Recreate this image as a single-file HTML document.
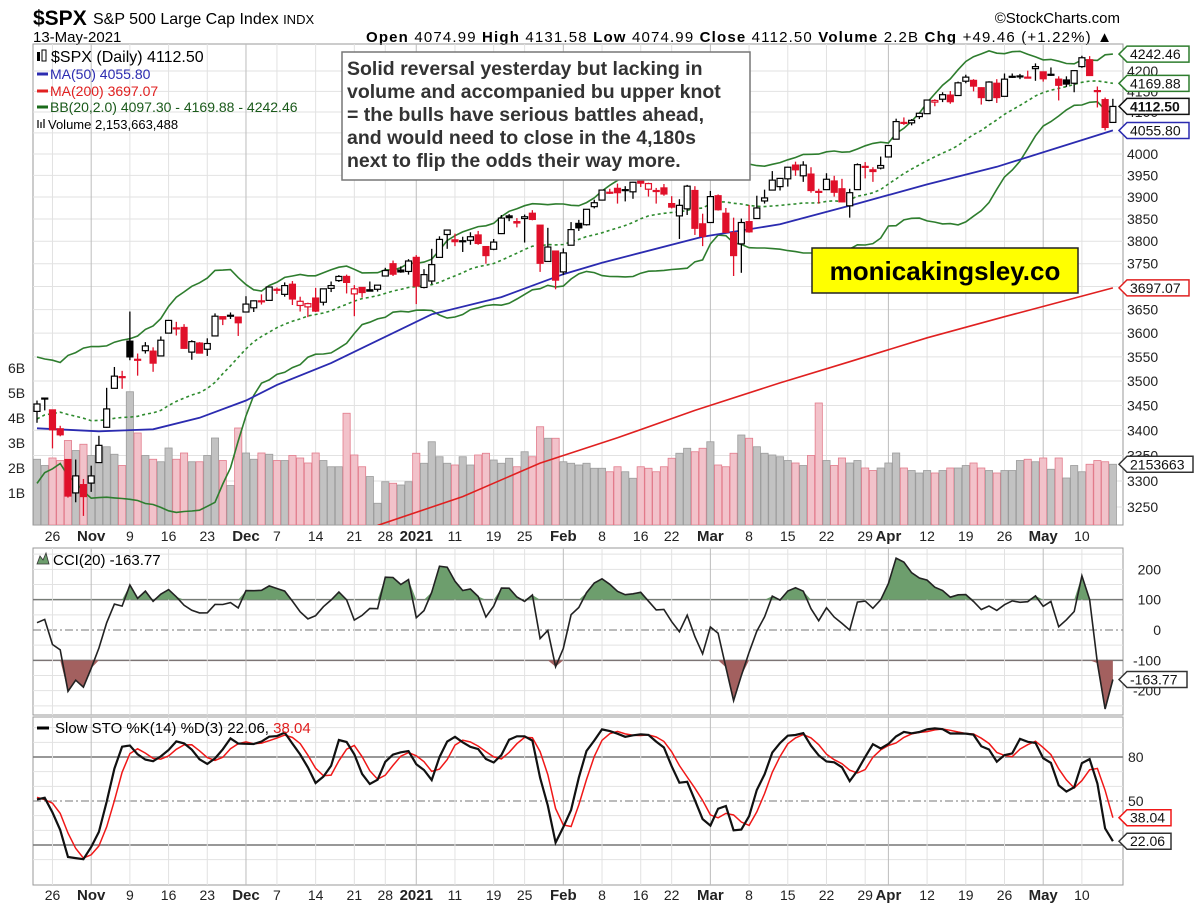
<!DOCTYPE html>
<html><head><meta charset="utf-8"><title>$SPX Daily Chart</title>
<style>
html,body{margin:0;padding:0;background:#fff;}
svg{display:block;font-family:"Liberation Sans",Arial,sans-serif;}
</style></head>
<body>
<svg id="chart" width="1200" height="908" viewBox="0 0 1200 908" xmlns="http://www.w3.org/2000/svg">
<defs>
<clipPath id="mainClip"><rect x="33" y="44" width="1090" height="481"/></clipPath>
<clipPath id="cciClip"><rect x="33" y="548" width="1090" height="167"/></clipPath>
<clipPath id="stoClip"><rect x="33" y="717" width="1090" height="168"/></clipPath>
</defs>
<rect x="0" y="0" width="1200" height="908" fill="#fff"/>
<!-- header -->
<text x="33" y="25" font-size="21" font-weight="bold">$SPX</text>
<text x="93" y="24" font-size="16">S&amp;P 500 Large Cap Index <tspan font-size="13">INDX</tspan></text>
<text x="33" y="42" font-size="15">13-May-2021</text>
<text x="366" y="42" font-size="15" textLength="746" lengthAdjust="spacing"><tspan font-weight="bold">Open</tspan> 4074.99  <tspan font-weight="bold">High</tspan> 4131.58  <tspan font-weight="bold">Low</tspan> 4074.99  <tspan font-weight="bold">Close</tspan> 4112.50  <tspan font-weight="bold">Volume</tspan> 2.2B  <tspan font-weight="bold">Chg</tspan> +49.46 (+1.22%) ▲</text>
<text x="1120" y="23" font-size="15" text-anchor="end">©StockCharts.com</text>

<rect x="33" y="44" width="1090" height="481" fill="none" stroke="#999"/>
<rect x="33" y="548" width="1090" height="167" fill="none" stroke="#999"/>
<rect x="33" y="717" width="1090" height="168" fill="none" stroke="#999"/>

<g id="gGrid"></g>
<g id="gMain" clip-path="url(#mainClip)"></g>
<g id="gCci" clip-path="url(#cciClip)"></g>
<g id="gSto" clip-path="url(#stoClip)"></g>
<g id="gAxis"></g>

<!-- main legend -->
<g font-size="14">
<rect x="37" y="52" width="3" height="9" fill="#000"/>
<rect x="42" y="50" width="4" height="11" fill="#fff" stroke="#000"/>
<text x="51" y="62" font-size="16">$SPX (Daily) 4112.50</text>
<line x1="37" y1="74" x2="48" y2="74" stroke="#2b2bb0" stroke-width="3"/>
<text x="50" y="79" fill="#2b2bb0">MA(50) 4055.80</text>
<line x1="37" y1="91" x2="48" y2="91" stroke="#e02020" stroke-width="3"/>
<text x="50" y="96" fill="#e02020">MA(200) 3697.07</text>
<line x1="37" y1="107" x2="48" y2="107" stroke="#1a6b1a" stroke-width="3"/>
<text x="50" y="112" fill="#1a5a1a">BB(20,2.0) 4097.30 - 4169.88 - 4242.46</text>
<rect x="37" y="120" width="2" height="8" fill="#666"/>
<rect x="40" y="122" width="2" height="6" fill="#666"/>
<rect x="43" y="119" width="2" height="9" fill="#666"/>
<text x="48" y="129" font-size="13">Volume 2,153,663,488</text>
</g>

<!-- annotation -->
<rect x="342" y="52" width="408" height="128" fill="#fff" stroke="#777" stroke-width="1.5"/>
<text font-size="19.5" font-weight="bold" fill="#333">
<tspan x="347" y="75">Solid reversal yesterday but lacking in</tspan>
<tspan x="347" y="98">volume and accompanied bu upper knot</tspan>
<tspan x="347" y="121">= the bulls have serious battles ahead,</tspan>
<tspan x="347" y="144">and would need to close in the 4,180s</tspan>
<tspan x="347" y="167">next to flip the odds their way more.</tspan>
</text>
<rect x="812" y="248" width="266" height="45" fill="#ffff00" stroke="#222" stroke-width="1.5"/>
<text x="945" y="280" font-size="26" font-weight="bold" text-anchor="middle">monicakingsley.co</text>

<!-- indicator legends -->
<path d="M37,564 L40,556 L43,560 L46,553 L49,564 Z" fill="#6d9e6d" stroke="#333" stroke-width="0.8"/>
<text x="53" y="565" font-size="15">CCI(20) -163.77</text>
<line x1="37" y1="728" x2="49" y2="728" stroke="#000" stroke-width="3"/>
<text x="55" y="733" font-size="15">Slow STO %K(14) %D(3) 22.06, <tspan fill="#e02020">38.04</tspan></text>
</svg>
<script>
// ===== data =====
// first 21 rows are warm-up history (Sep 23 - Oct 21, 2020), not drawn
const PRE = 21;
const opens = [3320,3226,3236,3333,3350,3342,3385,3339,3368,3409,3385,3434,3459,3501,3534,3515,3453,3494,3493,3439,3439,
3438,3464,3441,3403,3342,3277,3293,
3296,3336,3406,3485,3508,3583,3543,3563,3562,3552,3600,3611,3612,3560,3579,3566,3594,3635,3638,3634,
3645,3654,3669,3670,3694,3683,3705,3659,3656,3675,3666,3696,3713,3722,3684,3698,3693,3694,3723,3750,3736,3733,
3764,3698,3712,3764,3815,3803,3801,3802,3814,3788,3782,3817,3857,3844,3851,3863,3836,3755,3778,
3732,3791,3840,3837,3878,3893,3910,3920,3917,3912,3939,3918,3915,3921,3885,3857,3873,3915,3839,
3842,3903,3863,3819,3794,3844,3851,3891,3916,3924,3942,3974,3949,3953,3913,3917,3937,3919,3880,3917,3969,3963,3967,
3993,4035,4075,4074,4089,4096,4124,4131,4141,4140,4175,4177,4159,4128,4170,4138,4185,4188,4185,4206,4198,
4191,4180,4178,4170,4211,4228,4151,4130,4075];
const highs = [3323,3279,3306,3361,3358,3393,3397,3370,3409,3432,3426,3447,3482,3550,3534,3528,3489,3516,3502,3476,3465,
3460,3466,3441,3409,3342,3342,3304,
3330,3389,3486,3529,3521,3646,3557,3581,3570,3593,3628,3624,3619,3585,3581,3589,3642,3635,3644,3634,
3679,3670,3683,3700,3698,3709,3712,3678,3665,3697,3695,3711,3725,3726,3703,3698,3711,3703,3741,3757,3744,3760,
3769,3738,3783,3811,3826,3817,3810,3820,3823,3788,3805,3859,3861,3852,3860,3870,3836,3830,3778,
3784,3843,3848,3872,3894,3916,3919,3931,3925,3935,3950,3933,3921,3930,3902,3895,3928,3925,3862,
3914,3906,3875,3853,3851,3882,3903,3917,3960,3944,3970,3982,3983,3969,3919,3955,3949,3942,3919,3978,3981,3969,3994,
4020,4084,4087,4083,4098,4129,4131,4148,4151,4174,4191,4180,4160,4175,4180,4194,4194,4193,4201,4219,4199,
4209,4187,4187,4202,4238,4237,4162,4135,4132];
const lows = [3232,3209,3228,3330,3327,3341,3362,3323,3368,3355,3385,3426,3458,3496,3500,3479,3441,3483,3419,3435,3433,
3415,3440,3364,3388,3268,3259,3233,
3279,3336,3405,3485,3484,3543,3511,3557,3519,3552,3600,3595,3567,3544,3557,3552,3594,3617,3630,3594,
3645,3645,3661,3670,3684,3678,3660,3646,3634,3645,3659,3688,3710,3685,3636,3676,3690,3689,3723,3723,3730,3726,
3662,3696,3705,3764,3783,3789,3776,3792,3792,3750,3780,3816,3845,3831,3797,3847,3732,3755,3694,
3725,3791,3823,3835,3874,3892,3907,3885,3890,3896,3923,3901,3885,3903,3874,3805,3859,3814,3789,
3842,3869,3818,3723,3730,3819,3851,3885,3916,3915,3924,3949,3935,3910,3885,3917,3901,3889,3853,3917,3943,3935,3964,
3992,4035,4069,4068,4083,4096,4114,4124,4120,4140,4170,4150,4118,4126,4122,4138,4183,4180,4182,4176,4174,
4188,4128,4161,4148,4208,4188,4111,4056,4075];
const closes = [3237,3247,3298,3351,3335,3363,3381,3348,3409,3361,3419,3447,3477,3535,3512,3489,3484,3484,3427,3444,3436,
3453,3465,3401,3391,3271,3310,3270,
3310,3370,3443,3510,3509,3550,3545,3573,3537,3585,3627,3610,3568,3582,3558,3578,3636,3630,3638,3622,
3662,3669,3667,3699,3692,3702,3673,3668,3663,3647,3695,3702,3722,3709,3695,3687,3690,3703,3735,3727,3732,3756,
3701,3726,3748,3804,3825,3799,3801,3810,3795,3768,3798,3852,3853,3841,3855,3849,3751,3787,3714,
3774,3826,3830,3872,3887,3916,3911,3910,3916,3934,3932,3931,3914,3907,3877,3881,3925,3829,3811,
3901,3871,3820,3768,3842,3821,3875,3898,3939,3943,3969,3963,3974,3915,3913,3941,3911,3889,3910,3975,3971,3959,3973,
4020,4077,4074,4080,4097,4129,4128,4142,4125,4171,4185,4163,4135,4173,4135,4180,4187,4187,4183,4211,4181,
4192,4165,4168,4201,4233,4189,4152,4063,4113.5];
// volume in billions, one per visible day
const volumes = [2.35,2.1,2.4,2.3,3.1,2.7,2.95,2.5,2.85,2.85,2.55,2.1,5.05,3.4,2.5,2.35,2.25,2.8,2.35,2.6,2.25,2.25,2.5,3.2,2.3,1.3,3.6,2.6,2.35,2.6,2.55,2.3,
2.3,2.5,2.4,2.2,2.6,2.3,
2.05,2.05,4.19,2.52,2.05,1.66,0.59,1.45,1.39,1.32,1.45,2.59,2.19,3.05,2.45,2.19,2.12,2.45,2.12,2.52,2.59,2.32,2.19,2.39,2.05,2.65,2.45,3.65,3.19,3.19,2.25,2.19,2.12,2.19,1.99,1.99,1.85,2.05,1.85,1.59,2.05,1.99,1.85,2.05,2.39,2.59,2.79,2.65,2.79,3.05,2.12,2.05,2.59,3.32,3.19,2.85,2.59,2.52,2.45,
2.3,2.2,2.1,2.5,4.6,2.3,2.1,2.4,2.2,2.3,2.0,1.9,2.0,2.2,2.6,2.0,1.9,1.8,1.9,1.8,1.9,2.0,2.0,2.1,2.2,2.0,1.9,1.8,1.9,1.9,2.3,2.35,2.25,2.4,1.95,2.4,1.6,2.1,1.85,2.15,2.3,2.25,2.15];
// moving averages (visible-day index, value)
const ma50Idx = [0,8,15,21,27,31,38,51,60,68,73,86,96,106,115,124,139];
const ma50 = [3404,3398,3402,3425,3460,3492,3537,3640,3677,3727,3752,3810,3838,3885,3929,3970,4055.8];
const ma200Idx = [44,55,65,75,85,96,105,115,125,139];
const ma200 = [3215,3270,3335,3385,3440,3496,3540,3590,3635,3697.07];
// axis labels
const dateLabelIdx = [2,7,12,17,22,27,31,36,41,45,49,54,59,63,68,73,78,82,87,92,97,102,107,110,115,120,125,130,135];
const dateLabels = ["26","Nov","9","16","23","Dec","7","14","21","28","2021","11","19","25","Feb","8","16","22","Mar","8","15","22","29","Apr","12","19","26","May","10"];
const priceTicks = [3250,3300,3350,3400,3450,3500,3550,3600,3650,3700,3750,3800,3850,3900,3950,4000,4050,4100,4150,4200];
const volTicks = [1,2,3,4,5,6];
const cciTicks = [200,100,0,-100,-200];
const stoTicks = [80,50,20];

// ===== scales =====
const svg = document.getElementById('chart');
const NS = 'http://www.w3.org/2000/svg';
const X0 = 37, DX = 7.74;
const N = closes.length - PRE;
function xOf(i){ return X0 + i*DX; }
function yP(p){ return 154 - Math.log(p/4000)*1700; }
function yV(v){ return 518 - v*25; }
function yC(v){ return 630 - v*0.3033; }
function yS(v){ return 801 - (v-50)*1.4667; }
function mk(tag, attrs, parent){
  const e = document.createElementNS(NS, tag);
  for (const k in attrs) e.setAttribute(k, attrs[k]);
  parent.appendChild(e);
  return e;
}
const gGrid = document.getElementById('gGrid');
const gMain = document.getElementById('gMain');
const gCci = document.getElementById('gCci');
const gSto = document.getElementById('gSto');
const gAxis = document.getElementById('gAxis');

// ===== grids =====
priceTicks.forEach(p => {
  const l = mk('line',{x1:33,x2:1123,y1:yP(p),y2:yP(p),stroke:'#e2e2e2'},gGrid);
  
  
  const t = mk('text',{x:1127,y:yP(p)+5,'font-size':14,fill:'#222'},gAxis);
  t.textContent = String(p);
  
  
});
volTicks.forEach(v => {
  const t = mk('text',{x:8,y:yV(v)+5,'font-size':14,fill:'#222'},gAxis);
  t.textContent = v + 'B';
  
  
});
for (let v=-250; v<=250; v+=50){
  const major = (v===100||v===-100);
  const l = mk('line',{x1:33,x2:1123,y1:yC(v),y2:yC(v),stroke: major?'#777':(v===0?'#777':'#e2e2e2'),'stroke-width':major?1.5:1},gGrid);
  if (v===0) l.setAttribute('stroke-dasharray','8,3,2,3');
  
  
}
cciTicks.forEach(v => {
  const t = mk('text',{x:1161,y:yC(v)+5,'font-size':14,'text-anchor':'end',fill:'#222'},gAxis);
  t.textContent = String(v);
  
  
});
for (let v=10; v<=100; v+=10){
  const major = (v===80||v===20);
  const l = mk('line',{x1:33,x2:1123,y1:yS(v),y2:yS(v),stroke:(major||v===50)?'#777':'#e2e2e2','stroke-width':major?1.5:1},gGrid);
  if (v===50) l.setAttribute('stroke-dasharray','8,3,2,3');
  
  
}
stoTicks.forEach(v => {
  const t = mk('text',{x:1128,y:yS(v)+5,'font-size':14,fill:'#222'},gAxis);
  t.textContent = String(v);
  
  
});
dateLabelIdx.forEach((idx,k) => {
  const x = xOf(idx);
  const isMonth = isNaN(Number(dateLabels[k])) || dateLabels[k]==='2021';
  [[44,525],[548,715],[717,885]].forEach(r => {
    const l = mk('line',{x1:x,x2:x,y1:r[0],y2:r[1],stroke:isMonth?'#bdbdbd':'#e2e2e2'},gGrid);
    
    
  });
  [541,900].forEach(yy => {
    const t = mk('text',{x:x,y:yy,'font-size':isMonth?15:14,'font-weight':isMonth?'bold':'normal','text-anchor':'middle',fill:'#222'},gAxis);
    t.textContent = dateLabels[k];
    
    
  });
});

// ===== volume =====
for (let i=0;i<N;i++){
  const g = i+PRE;
  const down = closes[g] < closes[g-1];
  const v = volumes[i]||0;
  const r = mk('rect',{x:xOf(i)-3.6,y:yV(v),width:7.2,height:525-yV(v),fill:down?'#f2c2ca':'#c2c2c2',stroke:down?'#e27b8b':'#9c9c9c','stroke-width':0.8},gMain);
  
  
}

// ===== overlays =====
function pathFrom(pts){ return pts.map((p,k)=>(k?'L':'M')+p[0].toFixed(1)+','+p[1].toFixed(1)).join(''); }
const bbU=[], bbM=[], bbL=[];
for (let i=0;i<N;i++){
  const g=i+PRE; let s=0;
  for (let j=g-19;j<=g;j++) s+=closes[j];
  const m=s/20; let q=0;
  for (let j=g-19;j<=g;j++) q+=(closes[j]-m)*(closes[j]-m);
  const sd=Math.sqrt(q/20);
  bbU.push([xOf(i),yP(m+2*sd)]); bbM.push([xOf(i),yP(m)]); bbL.push([xOf(i),yP(m-2*sd)]);
}
const pU = mk('path',{d:pathFrom(bbU),fill:'none',stroke:'#2e7d2e','stroke-width':1.6},gMain);


const pL = mk('path',{d:pathFrom(bbL),fill:'none',stroke:'#2e7d2e','stroke-width':1.6},gMain);


const pM = mk('path',{d:pathFrom(bbM),fill:'none',stroke:'#2e8b2e','stroke-width':1.6,'stroke-dasharray':'3,3'},gMain);


const pMA200 = mk('path',{d:pathFrom(ma200Idx.map((ix,k)=>[xOf(ix),yP(ma200[k])])),fill:'none',stroke:'#e02020','stroke-width':1.6},gMain);


const pMA50 = mk('path',{d:pathFrom(ma50Idx.map((ix,k)=>[xOf(ix),yP(ma50[k])])),fill:'none',stroke:'#2b2bb0','stroke-width':1.8},gMain);



// ===== candles =====
for (let i=0;i<N;i++){
  const g=i+PRE, o=opens[g], c=closes[g], h=highs[g], l=lows[g];
  const col = c < closes[g-1] ? '#e0102a' : '#000';
  const x = xOf(i);
  const w = mk('line',{x1:x,x2:x,y1:yP(h),y2:yP(l),stroke:col,'stroke-width':1.3},gMain);
  
  
  const top=yP(Math.max(o,c)), bot=yP(Math.min(o,c));
  const b = mk('rect',{x:x-3,y:top,width:6,height:Math.max(1,bot-top),fill:c<o?col:'#fff',stroke:col,'stroke-width':1.2},gMain);
  
  
}

// ===== CCI =====
const cci=[];
for (let i=0;i<N;i++){
  const g=i+PRE; const tp=[];
  for (let j=g-19;j<=g;j++) tp.push((highs[j]+lows[j]+closes[j])/3);
  const m=tp.reduce((a,b)=>a+b,0)/20;
  const md=tp.reduce((a,b)=>a+Math.abs(b-m),0)/20;
  cci.push((tp[19]-m)/(0.015*md));
}
const cciPts = cci.map((v,i)=>[xOf(i),yC(v)]);
const y100=yC(100), ym100=yC(-100);
const upPoly = cciPts.map(p=>[p[0],Math.min(p[1],y100)]);
const fU = mk('path',{d:pathFrom(upPoly)+'L'+xOf(N-1)+','+y100+'L'+xOf(0)+','+y100+'Z',fill:'#6d9e6d',stroke:'none'},gCci);


const dnPoly = cciPts.map(p=>[p[0],Math.max(p[1],ym100)]);
const fD = mk('path',{d:pathFrom(dnPoly)+'L'+xOf(N-1)+','+ym100+'L'+xOf(0)+','+ym100+'Z',fill:'#a3605f',stroke:'none'},gCci);


const cl = mk('path',{d:pathFrom(cciPts),fill:'none',stroke:'#222','stroke-width':1.6},gCci);



// ===== Slow stochastic =====
const fastK=[];
for (let g=0; g<closes.length; g++){
  if (g<13){ fastK.push(null); continue; }
  let hh=-1e9, ll=1e9;
  for (let j=g-13;j<=g;j++){ hh=Math.max(hh,highs[j]); ll=Math.min(ll,lows[j]); }
  fastK.push(100*(closes[g]-ll)/(hh-ll));
}
const slowK=[], slowD=[];
for (let g=0; g<closes.length; g++){
  slowK.push(g<15?null:(fastK[g]+fastK[g-1]+fastK[g-2])/3);
}
for (let g=0; g<closes.length; g++){
  slowD.push(g<17?null:(slowK[g]+slowK[g-1]+slowK[g-2])/3);
}
const kPts=[], dPts=[];
for (let i=0;i<N;i++){ kPts.push([xOf(i),yS(slowK[i+PRE])]); dPts.push([xOf(i),yS(slowD[i+PRE])]); }
const dl = mk('path',{d:pathFrom(dPts),fill:'none',stroke:'#f01818','stroke-width':1.5},gSto);


const kl = mk('path',{d:pathFrom(kPts),fill:'none',stroke:'#111','stroke-width':2.2},gSto);



// ===== value tags =====
function tag(y, text, stroke, bold, w){
  const p = mk('polygon',{points:`1119,${y} 1127,${y-8} ${1127+w},${y-8} ${1127+w},${y+8} 1127,${y+8}`,fill:'#fff',stroke:stroke,'stroke-width':1.5},gAxis);
  
  
  const t = mk('text',{x:1130,y:y+5,'font-size':14,'font-weight':bold?'bold':'normal',fill:'#111'},gAxis);
  t.textContent = text;
  
  
}
const last = N-1;
tag(bbU[last][1], '4242.46', '#2e7d2e', false, 62);
tag(bbM[last][1], '4169.88', '#2e7d2e', false, 62);
tag(yP(closes[closes.length-1]), '4112.50', '#111', true, 62);
tag(yP(ma50[ma50.length-1]), '4055.80', '#2b2bb0', false, 62);
tag(yP(ma200[ma200.length-1]), '3697.07', '#e02020', false, 62);
tag(yV(volumes[volumes.length-1]), '2153663', '#333', false, 66);
tag(yC(cci[last]), '-163.77', '#333', false, 60);
tag(yS(slowD[closes.length-1]), '38.04', '#f01818', false, 44);
tag(yS(slowK[closes.length-1]), '22.06', '#333', false, 44);
</script>
</body></html>
